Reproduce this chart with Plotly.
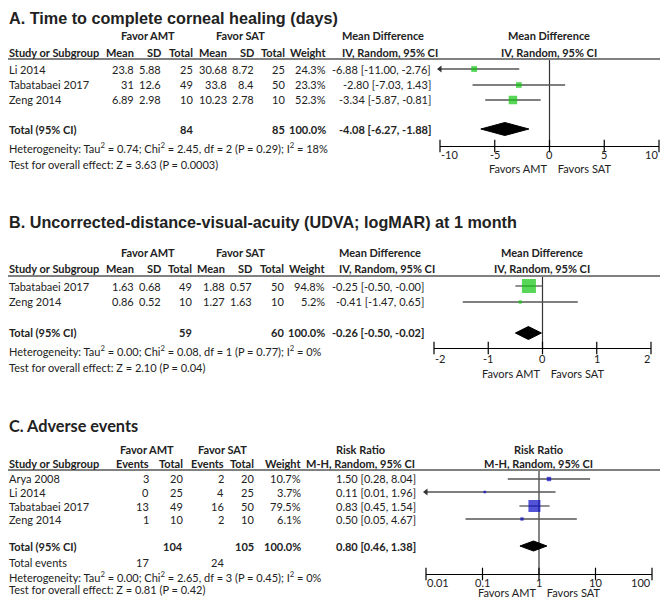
import numpy as np
import plotly.graph_objects as go

W, H = 669, 599
OFF = 8  # the page body margin shifts the figure by this much
FW, FH = W - OFF, H - OFF

# ---------------- A. Time to complete corneal healing (days)
a_studies = ["Li 2014", "Tabatabaei 2017", "Zeng 2014"]
a_amt_mean = [23.8, 31, 6.89]
a_amt_sd = [5.88, 12.6, 2.98]
a_amt_n = [25, 49, 10]
a_sat_mean = [30.68, 33.8, 10.23]
a_sat_sd = [8.72, 8.4, 2.78]
a_sat_n = [25, 50, 10]
a_weight = [24.3, 23.3, 52.3]
a_md = [-6.88, -2.80, -3.34]
a_lo = [-11.00, -7.03, -5.87]
a_hi = [-2.76, 1.43, -0.81]
a_total = [84, 85, -4.08, -6.27, -1.88]
a_het = "Heterogeneity: Tau<sup>2</sup> = 0.74; Chi<sup>2</sup> = 2.45, df = 2 (P = 0.29); I<sup>2</sup> = 18%"
a_test = "Test for overall effect: Z = 3.63 (P = 0.0003)"
a_ticks = [-10, -5, 0, 5, 10]

# ---------------- B. UDVA at 1 month
b_studies = ["Tabatabaei 2017", "Zeng 2014"]
b_amt_mean = [1.63, 0.86]
b_amt_sd = [0.68, 0.52]
b_amt_n = [49, 10]
b_sat_mean = [1.88, 1.27]
b_sat_sd = [0.57, 1.63]
b_sat_n = [50, 10]
b_weight = [94.8, 5.2]
b_md = [-0.25, -0.41]
b_lo = [-0.50, -1.47]
b_hi = [-0.0, 0.65]
b_total = [59, 60, -0.26, -0.50, -0.02]
b_het = "Heterogeneity: Tau<sup>2</sup> = 0.00; Chi<sup>2</sup> = 0.08, df = 1 (P = 0.77); I<sup>2</sup> = 0%"
b_test = "Test for overall effect: Z = 2.10 (P = 0.04)"
b_ticks = [-2, -1, 0, 1, 2]

# ---------------- C. Adverse events
c_studies = ["Arya 2008", "Li 2014", "Tabatabaei 2017", "Zeng 2014"]
c_amt_ev = [3, 0, 13, 1]
c_amt_n = [20, 25, 49, 10]
c_sat_ev = [2, 4, 16, 2]
c_sat_n = [20, 25, 50, 10]
c_weight = [10.7, 3.7, 79.5, 6.1]
c_rr = [1.50, 0.11, 0.83, 0.50]
c_lo = [0.28, 0.01, 0.45, 0.05]
c_hi = [8.04, 1.96, 1.54, 4.67]
c_total = [104, 105, 0.80, 0.46, 1.38]
c_events = [17, 24]
c_het = "Heterogeneity: Tau<sup>2</sup> = 0.00; Chi<sup>2</sup> = 2.65, df = 3 (P = 0.45); I<sup>2</sup> = 0%"
c_test = "Test for overall effect: Z = 0.81 (P = 0.42)"
c_ticks = [0.01, 0.1, 1, 10, 100]

FONT = "Lato, Roboto, sans-serif"
TITLE_FONT = "Liberation Sans, Arial, sans-serif"
FS = 11
TXT = "#222222"

fig = go.Figure()
ann = []
shapes = []


def px(x):
    return (x - OFF) / FW


def py(y):
    return min(1 - (y - OFF) / FH, 1)


def txt(x, y, s, align="right", bold=False, size=FS, font=FONT, valign="middle"):
    if bold:
        s = "<b>%s</b>" % s
    ann.append(dict(x=max(px(x), 0), y=py(y), xref="paper", yref="paper", text=s,
                    xanchor=align, yanchor=valign, showarrow=False, borderpad=0,
                    font=dict(family=font, size=size, color=TXT)))


def hline(y, x0=5, x1=660):
    shapes.append(dict(type="line", xref="paper", yref="paper", x0=px(x0), x1=px(x1),
                       y0=py(y), y1=py(y), line=dict(color="#808080", width=2)))


def ci(v):
    return "%.2f" % v


def forest(n, ys, est, lo, hi, wts, tot, ytot, color, maxsize, rng, log,
           ytop, yax, dh, ticks, ylab, yfav):
    xa = "x" if n == 1 else "x%d" % n
    ya = "y" if n == 1 else "y%d" % n
    null = 1 if log else 0
    xmin = 10 ** rng[0] if log else rng[0]
    # line of no effect
    fig.add_trace(go.Scatter(x=[null, null], y=[ytop, yax], mode="lines",
                             line=dict(color="#333333", width=1.2),
                             xaxis=xa, yaxis=ya, hoverinfo="skip"))
    for y, l, h in zip(ys, lo, hi):
        fig.add_trace(go.Scatter(x=[max(l, xmin), h], y=[y, y], mode="lines",
                                 line=dict(color="#555555", width=1.3),
                                 xaxis=xa, yaxis=ya, hoverinfo="skip"))
        if l <= xmin:
            fig.add_trace(go.Scatter(x=[xmin], y=[y], mode="markers", cliponaxis=False,
                                     marker=dict(symbol="triangle-left", size=6,
                                                 color="#333333"),
                                     xaxis=xa, yaxis=ya, hoverinfo="skip"))
    sizes = [maxsize * np.sqrt(w / max(wts)) for w in wts]
    fig.add_trace(go.Scatter(x=est, y=ys, mode="markers", cliponaxis=False,
                             marker=dict(symbol="square", size=sizes, color=color,
                                         line=dict(width=0)),
                             xaxis=xa, yaxis=ya, hoverinfo="skip"))
    e, l, h = tot[2], tot[3], tot[4]
    fig.add_trace(go.Scatter(x=[l, e, h, e, l],
                             y=[ytot, ytot - dh, ytot, ytot + dh, ytot],
                             mode="lines", fill="toself", fillcolor="black",
                             line=dict(color="black", width=1),
                             xaxis=xa, yaxis=ya, hoverinfo="skip"))
    # tick marks crossing the axis line
    fig.add_trace(go.Scatter(x=ticks, y=[yax] * len(ticks), mode="markers",
                             cliponaxis=False,
                             marker=dict(symbol="line-ns", size=9,
                                         line=dict(color="black", width=1.2)),
                             xaxis=xa, yaxis=ya, hoverinfo="skip"))
    # tick labels: end labels kept inside the axis span
    for i, t in enumerate(ticks):
        al = "left" if i == 0 else ("right" if i == len(ticks) - 1 else "center")
        ann.append(dict(x=np.log10(t) if log else t, y=py(ylab), xref=xa,
                        yref="paper", text="%g" % t, xanchor=al, yanchor="middle",
                        showarrow=False, borderpad=0,
                        font=dict(family=FONT, size=FS, color=TXT)))
    # favour labels centred on the line of no effect
    ann.append(dict(x=0, y=py(yfav), xref=xa, yref="paper",
                    text="Favors AMT    Favors SAT", xanchor="center",
                    yanchor="middle", showarrow=False, borderpad=0,
                    font=dict(family=FONT, size=FS, color=TXT)))


# ================= Panel A =================
txt(2, 0, "A. Time to complete corneal healing (days)", "left", True, 16.2, TITLE_FONT,
    "top")
txt(148, 35, "Favor AMT", "center", True)
txt(240, 35, "Favor SAT", "center", True)
txt(341, 35, "Mean Difference", "left", True)
txt(549, 35, "Mean Difference", "center", True)
hdr = [(8, "Study or Subgroup", "left"), (135, "Mean", "right"), (162, "SD", "right"),
       (194, "Total", "right"), (228, "Mean", "right"), (255, "SD", "right"),
       (286, "Total", "right"), (327, "Weight", "right"),
       (341, "IV, Random, 95% CI", "left"), (549, "IV, Random, 95% CI", "center")]
for x, s, al in hdr:
    txt(x, 52, s, al, True)
hline(59)
a_rows = [69, 85, 100]
for i, y in enumerate(a_rows):
    txt(8, y, a_studies[i], "left")
    txt(135, y, "%g" % a_amt_mean[i])
    txt(162, y, "%g" % a_amt_sd[i])
    txt(194, y, str(a_amt_n[i]))
    txt(228, y, "%g" % a_sat_mean[i])
    txt(255, y, "%g" % a_sat_sd[i])
    txt(286, y, str(a_sat_n[i]))
    txt(327, y, "%.1f%%" % a_weight[i])
    txt(432, y, "%s [%s, %s]" % (ci(a_md[i]), ci(a_lo[i]), ci(a_hi[i])))
txt(8, 129, "Total (95% CI)", "left", True)
txt(194, 129, str(a_total[0]), bold=True)
txt(286, 129, str(a_total[1]), bold=True)
txt(327, 129, "100.0%", bold=True)
txt(432, 129, "%s [%s, %s]" % (ci(a_total[2]), ci(a_total[3]), ci(a_total[4])), bold=True)
txt(8, 148, a_het, "left")
txt(8, 164, a_test, "left")
forest(1, a_rows, a_md, a_lo, a_hi, a_weight, a_total, 129, "#11c411", 8.5,
       [-10, 10], False, 59, 146, 6.5, a_ticks, 155, 169)

# ================= Panel B =================
txt(2, 222, "B. Uncorrected-distance-visual-acuity (UDVA; logMAR) at 1 month", "left",
    True, 16.2, TITLE_FONT)
txt(148, 252, "Favor AMT", "center", True)
txt(240, 252, "Favor SAT", "center", True)
txt(338, 252, "Mean Difference", "left", True)
txt(542, 252, "Mean Difference", "center", True)
hdr = [(8, "Study or Subgroup", "left"), (135, "Mean", "right"), (162, "SD", "right"),
       (193, "Total", "right"), (226, "Mean", "right"), (253, "SD", "right"),
       (285, "Total", "right"), (326, "Weight", "right"),
       (338, "IV, Random, 95% CI", "left"), (542, "IV, Random, 95% CI", "center")]
for x, s, al in hdr:
    txt(x, 268, s, al, True)
hline(276)
b_rows = [286, 302]
for i, y in enumerate(b_rows):
    txt(8, y, b_studies[i], "left")
    txt(135, y, "%.2f" % b_amt_mean[i])
    txt(162, y, "%.2f" % b_amt_sd[i])
    txt(193, y, str(b_amt_n[i]))
    txt(226, y, "%.2f" % b_sat_mean[i])
    txt(253, y, "%.2f" % b_sat_sd[i])
    txt(285, y, str(b_sat_n[i]))
    txt(326, y, "%.1f%%" % b_weight[i])
    txt(425, y, "%s [%s, %s]" % (ci(b_md[i]), ci(b_lo[i]), ci(b_hi[i])))
txt(8, 333, "Total (95% CI)", "left", True)
txt(193, 333, str(b_total[0]), bold=True)
txt(285, 333, str(b_total[1]), bold=True)
txt(326, 333, "100.0%", bold=True)
txt(425, 333, "%s [%s, %s]" % (ci(b_total[2]), ci(b_total[3]), ci(b_total[4])), bold=True)
txt(8, 350, b_het, "left")
txt(8, 367, b_test, "left")
forest(2, b_rows, b_md, b_lo, b_hi, b_weight, b_total, 333, "#11c411", 14,
       [-2, 2], False, 276, 348, 6.5, b_ticks, 358, 373)

# ================= Panel C =================
txt(8, 425, "C. Adverse events", "left", True, 16.3, "Lato, Liberation Sans, sans-serif")
txt(147, 449, "Favor AMT", "center", True)
txt(222, 449, "Favor SAT", "center", True)
txt(360, 449, "Risk Ratio", "center", True)
txt(538, 449, "Risk Ratio", "center", True)
hdr = [(8, "Study or Subgroup", "left"), (150, "Events", "right"), (184, "Total", "right"),
       (225, "Events", "right"), (255, "Total", "right"), (302, "Weight", "right"),
       (360, "M-H, Random, 95% CI", "center"), (538, "M-H, Random, 95% CI", "center")]
for x, s, al in hdr:
    txt(x, 463, s, al, True)
hline(470, 0, 660)
c_rows = [479, 492, 506, 519]
for i, y in enumerate(c_rows):
    txt(8, y, c_studies[i], "left")
    txt(150, y, str(c_amt_ev[i]))
    txt(184, y, str(c_amt_n[i]))
    txt(225, y, str(c_sat_ev[i]))
    txt(255, y, str(c_sat_n[i]))
    txt(302, y, "%.1f%%" % c_weight[i])
    txt(417, y, "%s [%s, %s]" % (ci(c_rr[i]), ci(c_lo[i]), ci(c_hi[i])))
txt(8, 546, "Total (95% CI)", "left", True)
txt(184, 546, str(c_total[0]), bold=True)
txt(255, 546, str(c_total[1]), bold=True)
txt(302, 546, "100.0%", bold=True)
txt(417, 546, "%s [%s, %s]" % (ci(c_total[2]), ci(c_total[3]), ci(c_total[4])), bold=True)
txt(8, 562, "Total events", "left")
txt(150, 562, str(c_events[0]))
txt(225, 562, str(c_events[1]))
txt(8, 576, c_het, "left")
txt(8, 589, c_test, "left")
forest(3, c_rows, c_rr, c_lo, c_hi, c_weight, c_total, 546, "#0a0ac8", 12,
       [-2, 2], True, 470, 574, 5, c_ticks, 582, 592)


def xaxis(dom, rng, anchor, log=False):
    d = dict(domain=[px(dom[0]), px(dom[1])], range=rng, anchor=anchor,
             showline=True, linecolor="black", linewidth=1.2, automargin=False,
             showgrid=False, zeroline=False, ticks="", showticklabels=False,
             fixedrange=True)
    if log:
        d["type"] = "log"
    return d


def yaxis(top, bottom, anchor):
    return dict(domain=[py(bottom), py(top)], range=[bottom, top], anchor=anchor,
                visible=False, showgrid=False, zeroline=False, automargin=False,
                fixedrange=True)


fig.update_layout(
    template="none",
    width=FW, height=FH, autosize=False,
    margin=dict(l=0, r=0, t=0, b=0),
    paper_bgcolor="white", plot_bgcolor="rgba(0,0,0,0)",
    showlegend=False,
    xaxis=xaxis([440, 659], [-10, 10], "y"),
    xaxis2=xaxis([434, 651], [-2, 2], "y2"),
    xaxis3=xaxis([426, 652], [-2, 2], "y3", log=True),
    yaxis=yaxis(20, 146, "x"),
    yaxis2=yaxis(230, 348, "x2"),
    yaxis3=yaxis(440, 574, "x3"),
    annotations=ann,
    shapes=shapes,
)

fig.write_html("out.html")
